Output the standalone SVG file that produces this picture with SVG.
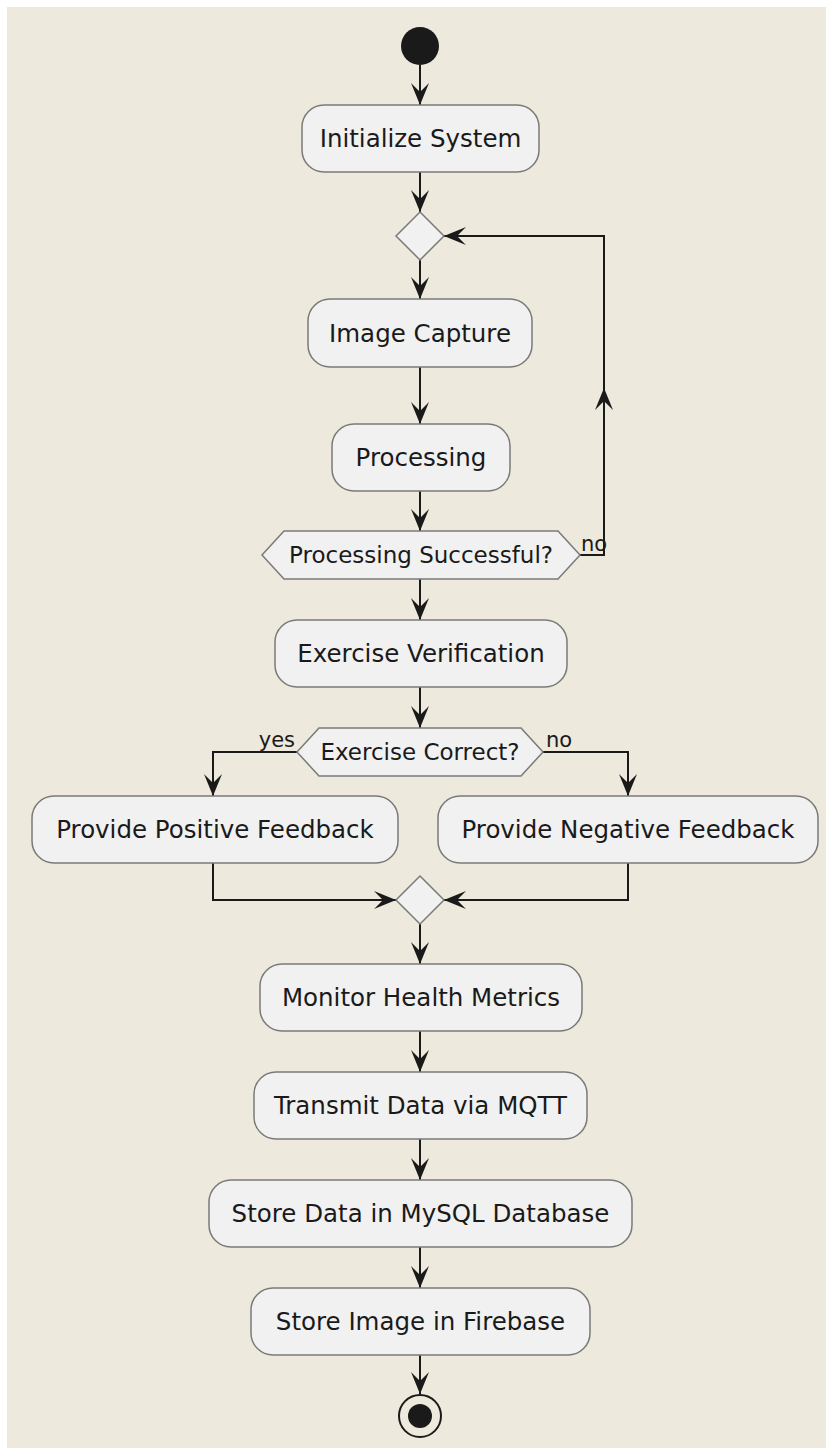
<svg xmlns="http://www.w3.org/2000/svg" width="833" height="1454" viewBox="0 0 833 1454">
<style>
.bg{fill:#EDE9DC}
.box{fill:#F1F1F1;stroke:#7A7A78;stroke-width:1.5}
.dia{fill:#F1F1F1;stroke:#7A7A78;stroke-width:1.5}
.lbl{font-family:"DejaVu Sans",sans-serif;font-size:24.5px;fill:#1A1A1A;text-anchor:middle}
.hl{font-family:"DejaVu Sans",sans-serif;font-size:23px;fill:#1A1A1A;text-anchor:middle}
.el{font-family:"DejaVu Sans",sans-serif;font-size:21px;fill:#1A1A1A}
.edge{fill:none;stroke:#1A1A1A;stroke-width:2}
</style>
<defs>
<marker id="ah" viewBox="0 0 22 18" refX="22" refY="9" markerWidth="22" markerHeight="18" markerUnits="userSpaceOnUse" orient="auto">
<path d="M0,0 L22,9 L0,18 L9,9 Z" fill="#1A1A1A"/>
</marker>
</defs>
<rect class="bg" x="7" y="7" width="819" height="1441"/>
<g id="connectors">
<path class="edge" d="M420,65 V105" marker-end="url(#ah)"/>
<path class="edge" d="M420,172 V212" marker-end="url(#ah)"/>
<path class="edge" d="M420,260 V299" marker-end="url(#ah)"/>
<path class="edge" d="M420,367 V424" marker-end="url(#ah)"/>
<path class="edge" d="M420,491 V531" marker-end="url(#ah)"/>
<path class="edge" d="M580,555 H604 V236 H444" marker-end="url(#ah)"/>
<path class="edge" d="M604,420 V388" marker-end="url(#ah)"/>
<path class="edge" d="M420,579 V620" marker-end="url(#ah)"/>
<path class="edge" d="M420,687 V728" marker-end="url(#ah)"/>
<path class="edge" d="M297,752 H213 V796" marker-end="url(#ah)"/>
<path class="edge" d="M543,752 H628 V796" marker-end="url(#ah)"/>
<path class="edge" d="M213,863 V900 H396" marker-end="url(#ah)"/>
<path class="edge" d="M628,863 V900 H444" marker-end="url(#ah)"/>
<path class="edge" d="M420,924 V964" marker-end="url(#ah)"/>
<path class="edge" d="M420,1031 V1072" marker-end="url(#ah)"/>
<path class="edge" d="M420,1139 V1180" marker-end="url(#ah)"/>
<path class="edge" d="M420,1247 V1288" marker-end="url(#ah)"/>
<path class="edge" d="M420,1355 V1394" marker-end="url(#ah)"/>
<text class="el" x="581" y="551">no</text>
<text class="el" x="295" y="747" text-anchor="end">yes</text>
<text class="el" x="546" y="747">no</text>
</g>
<g id="start"><circle cx="420" cy="46" r="19" fill="#1A1A1A"/></g>
<g id="n-init"><rect class="box" x="302" y="105" width="237" height="67" rx="22"/><text class="lbl" x="420.5" y="147">Initialize System</text></g>
<g id="merge1"><polygon class="dia" points="420,212 444,236 420,260 396,236"/></g>
<g id="n-capture"><rect class="box" x="308" y="299" width="224" height="68" rx="22"/><text class="lbl" x="420" y="341.5">Image Capture</text></g>
<g id="n-processing"><rect class="box" x="332" y="424" width="178" height="67" rx="22"/><text class="lbl" x="421" y="466">Processing</text></g>
<g id="d-success"><polygon class="dia" points="262,555 284,531 558,531 580,555 558,579 284,579"/><text class="hl" x="421" y="563">Processing Successful?</text></g>
<g id="n-verify"><rect class="box" x="275" y="620" width="292" height="67" rx="22"/><text class="lbl" x="421" y="662">Exercise Verification</text></g>
<g id="d-correct"><polygon class="dia" points="297,752 319,728 521,728 543,752 521,776 319,776"/><text class="hl" x="420" y="760">Exercise Correct?</text></g>
<g id="n-positive"><rect class="box" x="32" y="796" width="366" height="67" rx="22"/><text class="lbl" x="215" y="838">Provide Positive Feedback</text></g>
<g id="n-negative"><rect class="box" x="438" y="796" width="380" height="67" rx="22"/><text class="lbl" x="628" y="838">Provide Negative Feedback</text></g>
<g id="merge2"><polygon class="dia" points="420,876 444,900 420,924 396,900"/></g>
<g id="n-monitor"><rect class="box" x="260" y="964" width="322" height="67" rx="22"/><text class="lbl" x="421" y="1006">Monitor Health Metrics</text></g>
<g id="n-transmit"><rect class="box" x="254" y="1072" width="333" height="67" rx="22"/><text class="lbl" x="420.5" y="1114">Transmit Data via MQTT</text></g>
<g id="n-mysql"><rect class="box" x="209" y="1180" width="423" height="67" rx="22"/><text class="lbl" x="420.5" y="1222">Store Data in MySQL Database</text></g>
<g id="n-firebase"><rect class="box" x="251" y="1288" width="339" height="67" rx="22"/><text class="lbl" x="420.5" y="1330">Store Image in Firebase</text></g>
<g id="end"><circle cx="420" cy="1416" r="21" fill="none" stroke="#1A1A1A" stroke-width="2"/><circle cx="420" cy="1416" r="12" fill="#1A1A1A"/></g>
</svg>
